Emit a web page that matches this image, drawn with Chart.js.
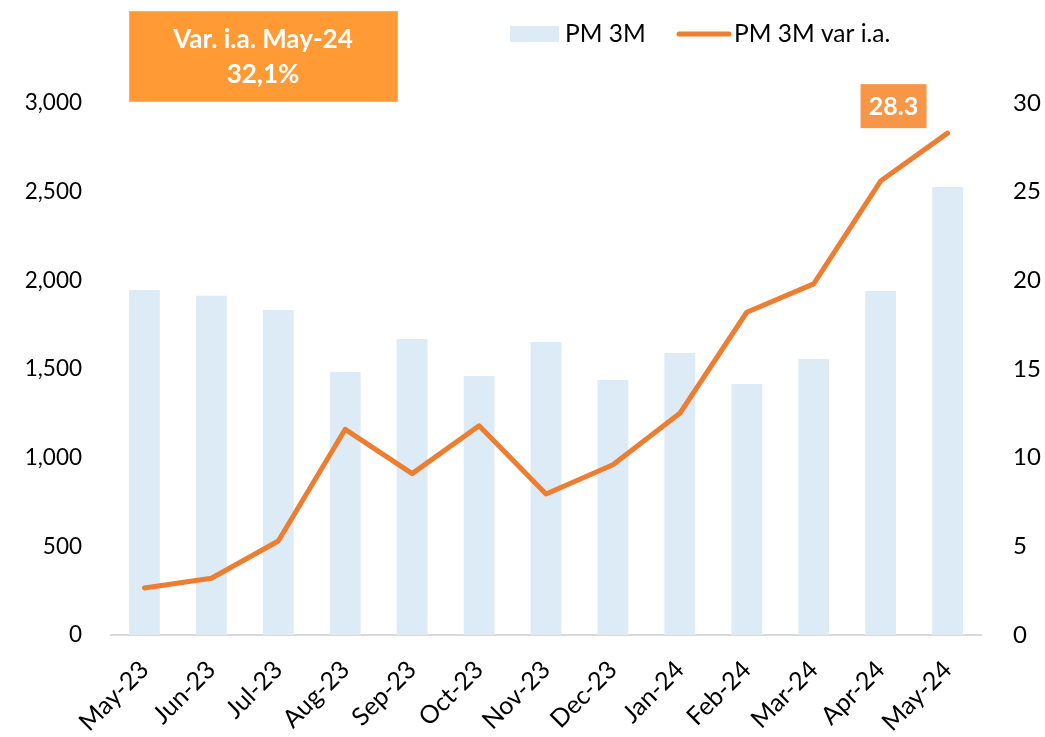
<!DOCTYPE html>
<html>
<head>
<meta charset="utf-8">
<script src="https://cdn.jsdelivr.net/npm/chart.js@4.4.1/dist/chart.umd.min.js"></script>
<style>
  html, body { margin: 0; padding: 0; background: #fff; }
  #wrap { width: 1045px; height: 737px; }
</style>
</head>
<body>
<div id="wrap"><canvas id="pmChart" width="1045" height="737"></canvas></div>
<script>
// datos
const months = ["May-23", "Jun-23", "Jul-23", "Aug-23", "Sep-23", "Oct-23", "Nov-23",
  "Dec-23", "Jan-24", "Feb-24", "Mar-24", "Apr-24", "May-24"];
const pm3m = [1945, 1913, 1833, 1483, 1669, 1461, 1652, 1438, 1590, 1415, 1556, 1940, 2526];
const pm3mVar = [2.65, 3.2, 5.3, 11.6, 9.1, 11.8, 7.95, 9.6, 12.5, 18.2, 19.8, 25.6, 28.3];
const boxTitle = ["Var. i.a. May-24", "32,1%"];

const FONT = "Lato, 'Open Sans', sans-serif";
const barColor = "#DDEBF7";
const lineColor = "#ED7D31";

// leyenda propia, arriba a la derecha
const legendPlugin = {
  id: "customLegend",
  afterDraw: (chart) => {
    const ctx = chart.ctx;
    const ds = chart.data.datasets;
    ctx.save();
    ctx.font = "24.5px " + FONT;
    ctx.textBaseline = "middle";
    ctx.textAlign = "left";
    ctx.fillStyle = barColor;
    ctx.fillRect(510, 26, 49, 16);
    ctx.fillStyle = "#000";
    ctx.fillText(ds[1].label, 565, 34);
    ctx.strokeStyle = lineColor;
    ctx.lineWidth = 5;
    ctx.lineCap = "round";
    ctx.beginPath();
    ctx.moveTo(679, 34);
    ctx.lineTo(729, 34);
    ctx.stroke();
    ctx.fillText(ds[0].label, 734, 34);
    ctx.restore();
  },
};

// cuadro naranja + etiqueta del ultimo dato
const boxPlugin = {
  id: "boxes",
  afterDatasetsDraw: (chart) => {
    const ctx = chart.ctx;
    ctx.save();
    ctx.fillStyle = "#FF9A35";
    ctx.fillRect(129, 11, 269, 91);
    ctx.strokeStyle = "#FFC000";
    ctx.lineWidth = 1;
    ctx.strokeRect(129.5, 11.5, 268, 90);
    ctx.fillStyle = "#fff";
    ctx.font = "bold 26px " + FONT;
    ctx.textAlign = "center";
    ctx.textBaseline = "middle";
    ctx.fillText(boxTitle[0], 263, 40);
    ctx.fillText(boxTitle[1], 263, 75);

    const meta = chart.getDatasetMeta(0);
    const last = meta.data[meta.data.length - 1];
    const cx = last.x - 54;
    const cy = last.y - 27;
    ctx.fillStyle = "#F79646";
    ctx.fillRect(cx - 33, cy - 22, 66, 44);
    ctx.fillStyle = "#fff";
    ctx.font = "bold 25px " + FONT;
    ctx.fillText(pm3mVar[pm3mVar.length - 1].toFixed(1), cx, cy + 1);
    ctx.restore();
  },
};

const ctx = document.getElementById("pmChart").getContext("2d");
const chart = new Chart(ctx, {
  type: "bar",
  data: {
    labels: months,
    datasets: [
      {
        type: "line",
        label: "PM 3M var i.a.",
        data: pm3mVar,
        yAxisID: "y1",
        borderColor: lineColor,
        borderWidth: 5,
        borderCapStyle: "round",
        borderJoinStyle: "round",
        pointRadius: 0,
        tension: 0,
        order: 1,
      },
      {
        type: "bar",
        label: "PM 3M",
        data: pm3m,
        yAxisID: "y",
        backgroundColor: barColor,
        categoryPercentage: 1,
        barPercentage: 0.46,
        order: 2,
      },
    ],
  },
  options: {
    responsive: false,
    animation: false,
    layout: { padding: { top: 103, left: 0, right: 0, bottom: 0 } },
    plugins: {
      legend: { display: false },
      tooltip: { enabled: false },
    },
    scales: {
      x: {
        grid: { display: false },
        border: { color: "#D9D9D9", width: 2 },
        ticks: {
          color: "#000",
          font: { family: FONT, size: 25 },
          minRotation: 45,
          maxRotation: 45,
          padding: 12,
        },
        afterFit: (s) => { s.height = 102; },
      },
      y: {
        position: "left",
        min: 0,
        max: 3000,
        grid: { display: false, drawTicks: false },
        border: { display: false },
        ticks: {
          stepSize: 500,
          color: "#000",
          font: { family: FONT, size: 22.5 },
          padding: 29,
          callback: (v) => v.toLocaleString("en-US"),
        },
        afterFit: (s) => { s.width = 111; },
      },
      y1: {
        position: "right",
        min: 0,
        max: 30,
        grid: { display: false, drawTicks: false },
        border: { display: false },
        ticks: {
          stepSize: 5,
          color: "#000",
          font: { family: FONT, size: 24 },
          padding: 32,
        },
        afterFit: (s) => { s.width = 64; },
      },
    },
  },
  plugins: [legendPlugin, boxPlugin],
});
</script>
</body>
</html>
